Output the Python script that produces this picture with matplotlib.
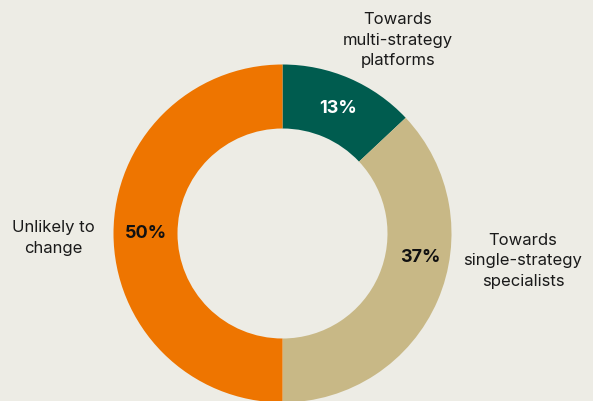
import numpy as np
import matplotlib.pyplot as plt

# survey shares
categories = ['Towards\nmulti-strategy\nplatforms', 'Towards\nsingle-strategy\nspecialists', 'Unlikely to\nchange']
shares = [13, 37, 50]
colors = ['#005c4f', '#c8b886', '#ee7500']
pct_colors = ['white', '#111111', '#111111']

bg = '#edece5'
W, H = 593, 401
cx, cy = 282.5, H - 233.5
R, ring = 169, 64

plt.rcParams['font.family'] = ['Inter', 'DejaVu Sans']

fig = plt.figure(figsize=(W / 100, H / 100), dpi=100, facecolor=bg)
ax = fig.add_axes([0, 0, 1, 1])
ax.set_facecolor(bg)

wedges, _ = ax.pie(shares, colors=colors, startangle=90, counterclock=False,
                   center=(cx, cy), radius=R, frame=True,
                   wedgeprops=dict(width=ring, linewidth=0))
ax.set_xlim(0, W)
ax.set_ylim(0, H)
ax.set_aspect('equal')
ax.axis('off')

# percentage labels inside the ring
pct_angles = [66, -10, 180]
pct_r = [137, 140, 137]
for s, a, r, c in zip(shares, pct_angles, pct_r, pct_colors):
    t = np.deg2rad(a)
    ax.text(cx + r * np.cos(t), cy + r * np.sin(t), f'{s}%', ha='center', va='center',
            fontsize=13, fontweight='bold', color=c)

# category names outside
name_pos = [(398, H - 40), (523, H - 261), (53, H - 238)]
for name, (x, y) in zip(categories, name_pos):
    ax.text(x, y, name, ha='center', va='center', fontsize=12,
            color='#1a1a1a', linespacing=1.45)

fig.savefig('out.png', dpi=100, facecolor=bg)
